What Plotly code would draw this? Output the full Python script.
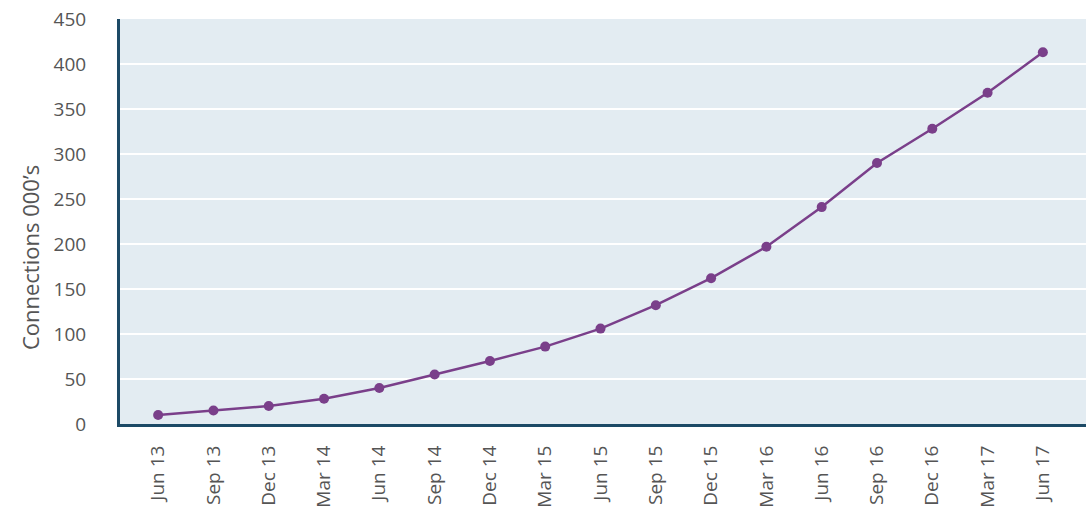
import plotly.graph_objects as go

quarters = ["Jun 13", "Sep 13", "Dec 13", "Mar 14", "Jun 14", "Sep 14", "Dec 14",
            "Mar 15", "Jun 15", "Sep 15", "Dec 15", "Mar 16", "Jun 16", "Sep 16",
            "Dec 16", "Mar 17", "Jun 17"]
connections = [10, 15, 20, 28, 40, 55, 70, 86, 106, 132, 162, 197, 241, 290, 328, 368, 413]
y_ticks = [0, 50, 100, 150, 200, 250, 300, 350, 400, 450]

line_color = "#7a3f8a"
axis_color = "#1c4a66"
text_color = "#555555"

fig = go.Figure()
fig.add_trace(go.Scatter(
    x=list(range(len(quarters))),
    y=connections,
    mode="lines+markers",
    line=dict(color=line_color, width=2.5),
    marker=dict(color=line_color, size=10),
    hoverinfo="x+y",
))

fig.update_layout(
    width=1086,
    height=508,
    margin=dict(l=120, r=0, t=19, b=82),
    paper_bgcolor="white",
    plot_bgcolor="#e3ecf2",
    showlegend=False,
    font=dict(family="Open Sans, Noto Sans, sans-serif", size=19, color=text_color),
)

fig.update_xaxes(
    tickmode="array",
    tickvals=list(range(len(quarters))),
    ticktext=quarters,
    tickangle=-90,
    range=[-0.69, 16.78],
    showgrid=False,
    zeroline=False,
    showline=True,
    linecolor=axis_color,
    linewidth=3,
    ticks="",
    ticklabelstandoff=11,
    tickfont=dict(size=19, color=text_color),
)

fig.update_yaxes(
    tickmode="array",
    tickvals=y_ticks,
    range=[0, 450],
    showgrid=True,
    gridcolor="white",
    gridwidth=2,
    zeroline=False,
    showline=True,
    linecolor=axis_color,
    linewidth=3,
    ticks="",
    ticklabelstandoff=27,
    tickfont=dict(size=19, color=text_color),
)

# y-axis title, placed as a rotated annotation left of the tick labels
fig.add_annotation(
    text="Connections 000’s",
    xref="paper", yref="paper",
    x=-0.093, y=0.41,
    xanchor="center", yanchor="middle",
    textangle=-90,
    showarrow=False,
    font=dict(size=22, color=text_color),
)

fig.write_html("out.html")
